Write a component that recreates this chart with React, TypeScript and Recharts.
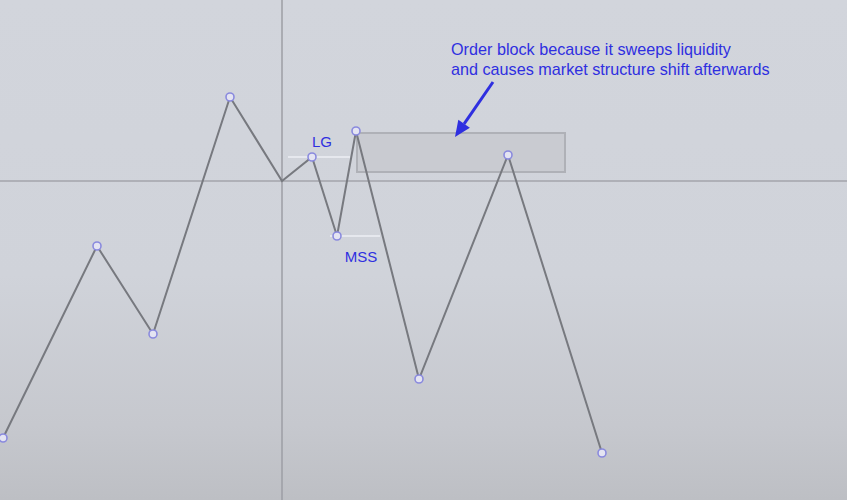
import {
  ComposedChart,
  Line,
  XAxis,
  YAxis,
  ReferenceLine,
  ReferenceArea,
  ReferenceDot,
} from "recharts";

// swing points of the price path (x = bar position, y = price level)
const swingX = [3, 97, 153, 230, 282, 312, 337, 356, 419, 508, 602];
const swingY = [62, 254, 166, 403, 319, 343, 264, 369, 121, 345, 47];
// the crosshair sits on this point, so it has no marker
const markerShown = [true, true, true, true, false, true, true, true, true, true, true];

const crosshairX = 282;
const crosshairY = 319;

const orderBlock = { x1: 357, x2: 565, y1: 328, y2: 367 };

const liquidityLines = [
  { x1: 288, x2: 350, y: 343 },
  { x1: 330, x2: 380, y: 264 },
];

const labels = [
  { x: 322, y: 357, text: "LG" },
  { x: 361, y: 242, text: "MSS" },
];

const noteLines = [
  "Order block because it sweeps liquidity",
  "and causes market structure shift afterwards",
];
const noteAt = { x: 451, y: 445 };
const arrowFrom = { x: 493, y: 418 };
const arrowTo = { x: 455, y: 363 };

const data = swingX.map((x, i) => ({ x, price: swingY[i], marker: markerShown[i] }));

const BLUE = "#2f2fe0";
const FONT = "'Liberation Sans', Arial, sans-serif";

function SwingDot(props: any) {
  const { cx, cy, payload, index } = props;
  if (!payload?.marker) return <g key={index} />;
  return (
    <circle
      key={index}
      cx={cx}
      cy={cy}
      r={4}
      fill="#e4e4f2"
      stroke="#8a8ade"
      strokeWidth={1.6}
    />
  );
}

function TextMark({ cx, cy, text }: any) {
  return (
    <text x={cx} y={cy} fill={BLUE} fontSize={15} fontFamily={FONT} textAnchor="middle" dominantBaseline="middle">
      {text}
    </text>
  );
}

function NoteMark({ cx, cy }: any) {
  return (
    <text x={cx} y={cy} fill={BLUE} fontSize={16.2} fontFamily={FONT}>
      {noteLines.map((l, i) => (
        <tspan key={i} x={cx} dy={i === 0 ? 0 : 20}>
          {l}
        </tspan>
      ))}
    </text>
  );
}

function Arrow(props: any) {
  const { x1, y1, x2, y2 } = props;
  if (x1 == null) return null;
  const ang = Math.atan2(y2 - y1, x2 - x1);
  const len = 16;
  const half = 7;
  const bx = x2 - len * Math.cos(ang);
  const by = y2 - len * Math.sin(ang);
  const px = -Math.sin(ang) * half;
  const py = Math.cos(ang) * half;
  return (
    <g>
      <line x1={x1} y1={y1} x2={bx} y2={by} stroke={BLUE} strokeWidth={3} />
      <polygon points={`${x2},${y2} ${bx + px},${by + py} ${bx - px},${by - py}`} fill={BLUE} />
    </g>
  );
}

export default function App() {
  return (
    <div
      style={{
        position: "fixed",
        top: 0,
        left: 0,
        width: 847,
        height: 500,
        background: "linear-gradient(180deg, #d2d5dc 0%, #d0d3da 55%, #c6c8ce 85%, #bdbfc4 100%)",
      }}
    >
      <ComposedChart width={847} height={500} data={data} margin={{ top: 0, right: 0, bottom: 0, left: 0 }}>
        <XAxis dataKey="x" type="number" domain={[0, 847]} hide />
        <YAxis type="number" domain={[0, 500]} hide />

        <ReferenceLine x={crosshairX} stroke="#9c9ea4" strokeWidth={1.5} />
        <ReferenceLine y={crosshairY} stroke="#a3a5ab" strokeWidth={1.5} />

        {liquidityLines.map((l, i) => (
          <ReferenceLine
            key={i}
            segment={[{ x: l.x1, y: l.y }, { x: l.x2, y: l.y }]}
            stroke="#e6e8ee"
            strokeWidth={2}
          />
        ))}

        <ReferenceArea
          x1={orderBlock.x1}
          x2={orderBlock.x2}
          y1={orderBlock.y1}
          y2={orderBlock.y2}
          fill="#c9cbd1"
          fillOpacity={1}
          stroke="#afb1b7"
          strokeWidth={2}
        />

        <Line
          type="linear"
          dataKey="price"
          stroke="#77797f"
          strokeWidth={2}
          dot={SwingDot}
          activeDot={false}
          isAnimationActive={false}
        />

        {labels.map((l, i) => (
          <ReferenceDot key={i} x={l.x} y={l.y} r={0} shape={(p: any) => <TextMark {...p} text={l.text} />} />
        ))}

        <ReferenceDot x={noteAt.x} y={noteAt.y} r={0} shape={(p: any) => <NoteMark {...p} />} />

        <ReferenceLine
          segment={[arrowFrom, arrowTo]}
          stroke={BLUE}
          shape={(p: any) => <Arrow {...p} />}
        />
      </ComposedChart>
    </div>
  );
}
